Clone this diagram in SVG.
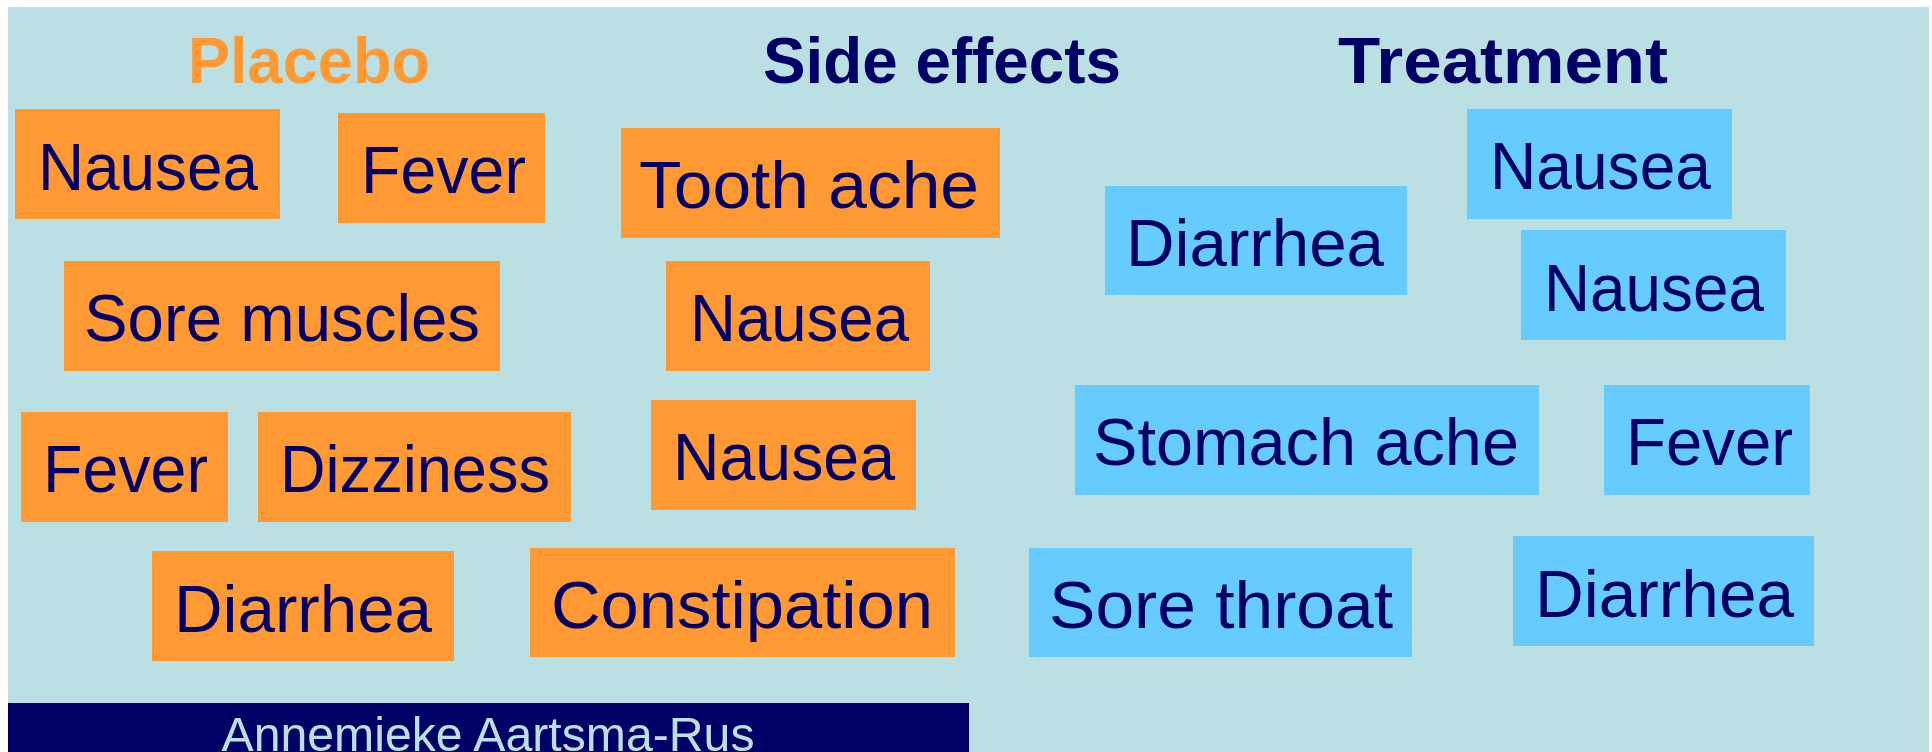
<svg xmlns="http://www.w3.org/2000/svg" width="1932" height="752" viewBox="0 0 1932 752">
<style>
.bg{fill:#BBE0E3}
.o{fill:#FF9933}
.b{fill:#66CCFF}
.t{font-family:"Liberation Sans",Arial,sans-serif;font-size:66px;fill:#000066}
.h{font-family:"Liberation Sans",Arial,sans-serif;font-size:64px;font-weight:bold}
.f{font-family:"Liberation Sans",Arial,sans-serif;font-size:48px;fill:#BBE0E3}
</style>
<rect width="1932" height="752" fill="#FFFFFF"/>
<rect class="bg" x="8" y="7" width="1921" height="745"/>
<g id="headers">
<text class="h" x="188" y="83" textLength="242" lengthAdjust="spacingAndGlyphs" fill="#FF9933">Placebo</text>
<text class="h" x="763" y="83" textLength="358" lengthAdjust="spacingAndGlyphs" fill="#000066">Side effects</text>
<text class="h" x="1338" y="83" textLength="330" lengthAdjust="spacingAndGlyphs" fill="#000066">Treatment</text>
</g>
<g id="p1"><rect class="o" x="15" y="109" width="265" height="110"/><text class="t" x="38" y="190" textLength="220" lengthAdjust="spacingAndGlyphs">Nausea</text></g>
<g id="p2"><rect class="o" x="338" y="113" width="207" height="110"/><text class="t" x="361" y="193" textLength="165" lengthAdjust="spacingAndGlyphs">Fever</text></g>
<g id="p3"><rect class="o" x="64" y="261" width="436" height="110"/><text class="t" x="84" y="341" textLength="396" lengthAdjust="spacingAndGlyphs">Sore muscles</text></g>
<g id="p4"><rect class="o" x="21" y="412" width="207" height="110"/><text class="t" x="43" y="492" textLength="165" lengthAdjust="spacingAndGlyphs">Fever</text></g>
<g id="p5"><rect class="o" x="258" y="412" width="313" height="110"/><text class="t" x="280" y="492" textLength="270" lengthAdjust="spacingAndGlyphs">Dizziness</text></g>
<g id="p6"><rect class="o" x="152" y="551" width="302" height="110"/><text class="t" x="174" y="632" textLength="258" lengthAdjust="spacingAndGlyphs">Diarrhea</text></g>
<g id="p7"><rect class="o" x="530" y="548" width="425" height="109"/><text class="t" x="551" y="628" textLength="382" lengthAdjust="spacingAndGlyphs">Constipation</text></g>
<g id="s1"><rect class="o" x="621" y="128" width="379" height="110"/><text class="t" x="639" y="208" textLength="340" lengthAdjust="spacingAndGlyphs">Tooth ache</text></g>
<g id="s2"><rect class="o" x="666" y="261" width="264" height="110"/><text class="t" x="690" y="341" textLength="219" lengthAdjust="spacingAndGlyphs">Nausea</text></g>
<g id="s3"><rect class="o" x="651" y="400" width="265" height="110"/><text class="t" x="673" y="480" textLength="222" lengthAdjust="spacingAndGlyphs">Nausea</text></g>
<g id="t1"><rect class="b" x="1105" y="186" width="302" height="109"/><text class="t" x="1126" y="266" textLength="258" lengthAdjust="spacingAndGlyphs">Diarrhea</text></g>
<g id="t2"><rect class="b" x="1467" y="109" width="265" height="110"/><text class="t" x="1490" y="189" textLength="221" lengthAdjust="spacingAndGlyphs">Nausea</text></g>
<g id="t3"><rect class="b" x="1521" y="230" width="265" height="110"/><text class="t" x="1544" y="311" textLength="220" lengthAdjust="spacingAndGlyphs">Nausea</text></g>
<g id="t4"><rect class="b" x="1075" y="385" width="464" height="110"/><text class="t" x="1093" y="465" textLength="426" lengthAdjust="spacingAndGlyphs">Stomach ache</text></g>
<g id="t5"><rect class="b" x="1604" y="385" width="206" height="110"/><text class="t" x="1626" y="465" textLength="167" lengthAdjust="spacingAndGlyphs">Fever</text></g>
<g id="t6"><rect class="b" x="1029" y="548" width="383" height="109"/><text class="t" x="1049" y="628" textLength="344" lengthAdjust="spacingAndGlyphs">Sore throat</text></g>
<g id="t7"><rect class="b" x="1513" y="536" width="301" height="110"/><text class="t" x="1535" y="617" textLength="259" lengthAdjust="spacingAndGlyphs">Diarrhea</text></g>
<g id="footer"><rect x="8" y="703" width="961" height="49" fill="#000066"/><text class="f" x="488" y="751" text-anchor="middle" textLength="533" lengthAdjust="spacingAndGlyphs">Annemieke Aartsma-Rus</text></g>
<g id="connectors"></g>
</svg>
